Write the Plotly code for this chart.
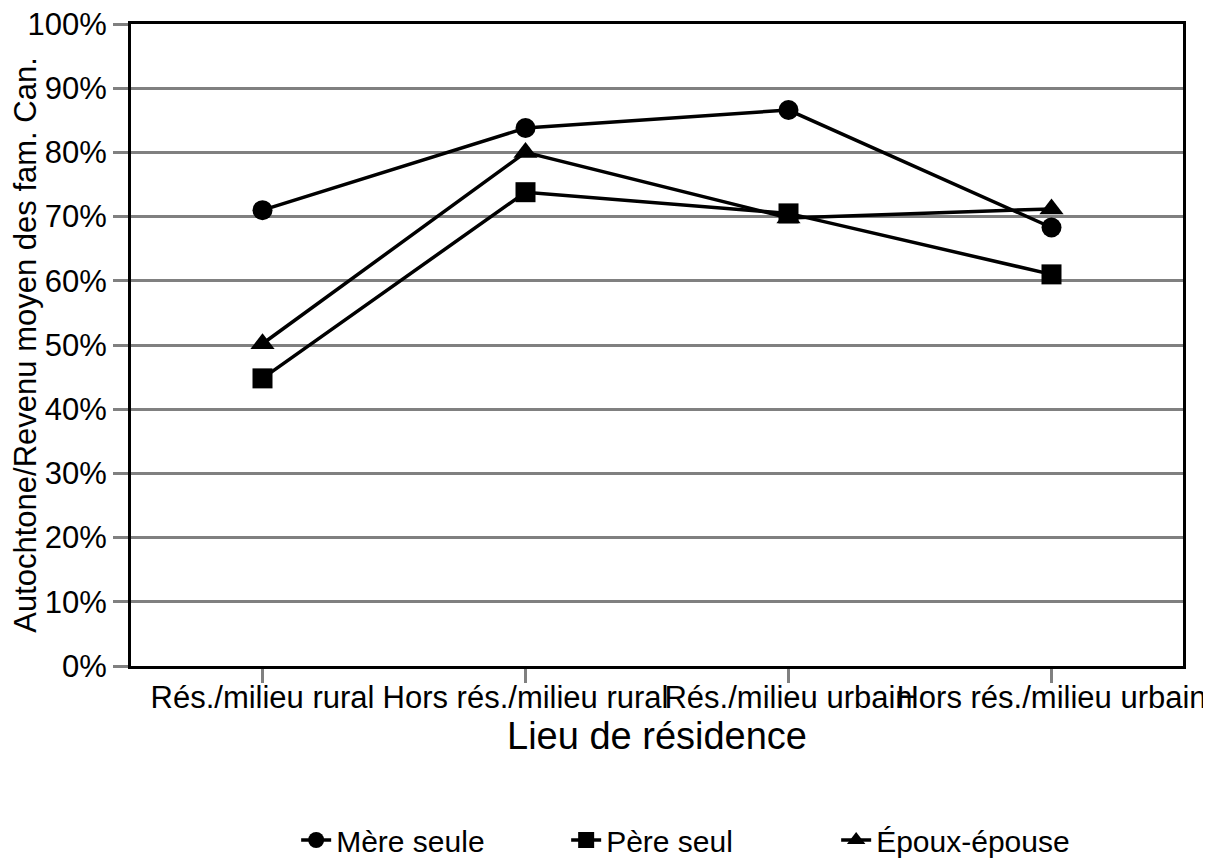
import plotly.graph_objects as go

categories = ["Rés./milieu rural", "Hors rés./milieu rural", "Rés./milieu urbain", "Hors rés./milieu urbain"]
mere_seule = [71.0, 83.8, 86.6, 68.3]
pere_seul = [44.8, 73.8, 70.5, 61.0]
epoux_epouse = [50.2, 80.0, 69.8, 71.2]
y_ticks = [0, 10, 20, 30, 40, 50, 60, 70, 80, 90, 100]
y_tick_labels = [f"{v}%" for v in y_ticks]

series = [
    ("Mère seule", mere_seule, "circle", 20),
    ("Père seul", pere_seul, "square", 20),
    ("Époux-épouse", epoux_epouse, "triangle-up", 21),
]

fig = go.Figure()
for name, vals, sym, sz in series:
    fig.add_trace(go.Scatter(
        x=categories, y=vals, name=name, mode="lines+markers",
        line=dict(color="black", width=3.5),
        marker=dict(symbol=sym, size=sz, color="black"),
    ))

fig.update_layout(
    width=1211, height=861,
    margin=dict(l=123, r=36, t=16, b=203, autoexpand=False),
    paper_bgcolor="white", plot_bgcolor="white",
    font=dict(family="Liberation Sans, Arial, sans-serif", color="black"),
    showlegend=True,
    legend=dict(orientation="h", x=0.157, xanchor="left", y=-0.271, yanchor="middle",
                font=dict(size=30), entrywidth=225, entrywidthmode="pixels", tracegroupgap=0),
)
fig.update_xaxes(
    type="category", range=[-0.5, 3.5], tickangle=0, automargin=False,
    showline=True, mirror=True, linecolor="black", linewidth=3,
    ticks="outside", ticklen=14, tickwidth=3, tickcolor="#808080",
    showgrid=False, tickfont=dict(size=31), ticklabelstandoff=-12,
    ticklabeloverflow="allow",
    title=dict(text="Lieu de résidence", font=dict(size=38), standoff=0),
)
fig.update_yaxes(
    range=[0, 100], tickvals=y_ticks, ticktext=y_tick_labels, automargin=False,
    showline=True, mirror=True, linecolor="black", linewidth=3,
    ticks="outside", ticklen=15, tickwidth=3, tickcolor="#808080",
    showgrid=True, gridcolor="#808080", gridwidth=3, zeroline=False,
    tickfont=dict(size=31), ticklabeloverflow="allow",
    title=dict(text="Autochtone/Revenu moyen des fam. Can.", font=dict(size=31), standoff=0),
)

fig.write_html("out.html")
